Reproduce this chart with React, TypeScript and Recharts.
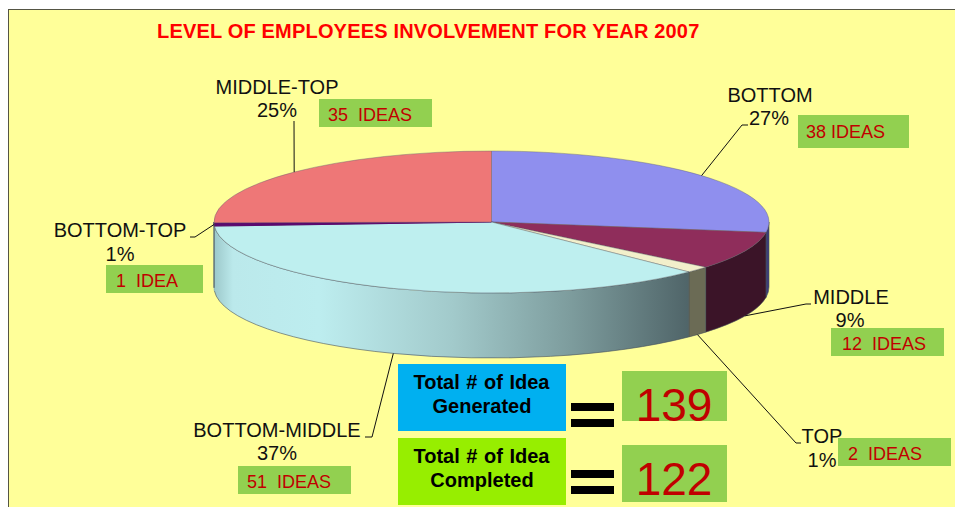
import React from "react";
import { PieChart, Pie, Cell } from "recharts";

const sliceNames = ["BOTTOM", "MIDDLE", "TOP", "BOTTOM-MIDDLE", "BOTTOM-TOP", "MIDDLE-TOP"];
const ideaCounts = [38, 12, 2, 51, 1, 35];
const ideaLabels = ["38 IDEAS", "12  IDEAS", "2  IDEAS", "51  IDEAS", "1  IDEA", "35  IDEAS"];
const titleText = "LEVEL OF EMPLOYEES INVOLVEMENT FOR YEAR 2007";
const totalGeneratedLines = ["Total # of Idea", "Generated"];
const totalCompletedLines = ["Total # of Idea", "Completed"];
const totalGenerated = 139;
const totalCompleted = 122;

const chartData = sliceNames.map((name, i) => ({ name, value: ideaCounts[i], ideas: ideaLabels[i] }));

const topColors = ["#8F8FEE", "#8F2D5B", "#F2EFCB", "#BEEFEF", "#5A0A6E", "#EE7777"];
const wallColors = ["#3D3D78", "#3B1428", "#6B6B55", "url(#wallGradient)", "#9CC8CA", "#8A4444"];

const CX = 491.5;
const CY = 222;
const RX = 277.5;
const RY = 71;
const DEPTH = 65;
const FONT = "'Liberation Sans', Arial, sans-serif";

const pt = (t: number, dy = 0) => {
  const r = (t * Math.PI) / 180;
  return [CX + RX * Math.sin(r), CY - RY * Math.cos(r) + dy];
};

const f = (p: number[]) => `${p[0].toFixed(2)} ${p[1].toFixed(2)}`;

// Squashes the library's circular sector into the tilted disc, with its side wall.
const TiltedSector = (props: any) => {
  const { startAngle, endAngle, fill, index } = props;
  const t0 = 90 - startAngle;
  const t1 = 90 - endAngle;
  const large = t1 - t0 > 180 ? 1 : 0;
  const top = `M ${CX} ${CY} L ${f(pt(t0))} A ${RX} ${RY} 0 ${large} 1 ${f(pt(t1))} Z`;
  const a = Math.max(t0, 90);
  const b = Math.min(t1, 270);
  let wall: string | null = null;
  if (b > a) {
    const wl = b - a > 180 ? 1 : 0;
    wall = `M ${f(pt(a))} A ${RX} ${RY} 0 ${wl} 1 ${f(pt(b))} L ${f(pt(b, DEPTH))} A ${RX} ${RY} 0 ${wl} 0 ${f(pt(a, DEPTH))} Z`;
  }
  const isSliver = t1 - t0 < 3;
  return (
    <g>
      {wall && <path d={wall} fill={wallColors[index]} stroke={isSliver ? wallColors[index] : "#46505a"} strokeWidth={0.6} />}
      <path d={top} fill={fill} stroke={isSliver ? fill : "#5a5a70"} strokeWidth={isSliver ? 1.2 : 0.4} />
    </g>
  );
};

const labelLayout: Record<string, any> = {
  BOTTOM: { name: [770, 102], pct: [769, 125], line: [[742, 125], [748, 125]], box: [798, 115, 111, 33], idea: [806, 138] },
  MIDDLE: { name: [851, 304], pct: [850, 327], line: [[806, 304], [811, 304]], box: [831, 328, 113, 28], idea: [842, 350] },
  TOP: { name: [822, 443], pct: [822, 467], line: [[796, 443], [801, 443]], box: [838, 438, 113, 28], idea: [848, 460] },
  "BOTTOM-MIDDLE": { name: [277, 437], pct: [277, 460], line: [[372, 437], [365, 437]], box: [238, 466, 113, 28], idea: [247, 488] },
  "BOTTOM-TOP": { name: [120, 237], pct: [120, 261], line: [[195, 237], [190, 237]], box: [106, 265, 97, 28], idea: [116, 287] },
  "MIDDLE-TOP": { name: [277, 94], pct: [277, 117], line: [[294, 121]], box: [319, 99, 113, 28], idea: [328, 121] },
};

const SliceLabel = (props: any) => {
  const { name, percent, midAngle, index } = props;
  const layout = labelLayout[name];
  const t = 90 - midAngle;
  const start = pt(t, t > 100 && t < 260 ? DEPTH : 0);
  const pts = [start, ...layout.line];
  return (
    <g key={index} fontFamily={FONT}>
      <polyline points={pts.map((p: number[]) => p.join(",")).join(" ")} fill="none" stroke="#111" strokeWidth={1} />
      <text x={layout.name[0]} y={layout.name[1]} textAnchor="middle" fontSize={20} fill="#111">{name}</text>
      <text x={layout.pct[0]} y={layout.pct[1]} textAnchor="middle" fontSize={20} fill="#111">{`${Math.round(percent * 100)}%`}</text>
      <rect x={layout.box[0]} y={layout.box[1]} width={layout.box[2]} height={layout.box[3]} fill="#92D050" />
      <text x={layout.idea[0]} y={layout.idea[1]} fontSize={18} fill="#C00000" style={{ whiteSpace: "pre" }}>{ideaLabels[index]}</text>
    </g>
  );
};

const TotalRow = ({ y, h, color, lines, value, valueY, boxY, boxH, barY }: any) => (
  <g fontFamily={FONT}>
    <rect x={398} y={y} width={168} height={h} fill={color} />
    <text x={481.5} y={y + 25} textAnchor="middle" fontSize={20} fontWeight="bold" fill="#000" wordSpacing={1}>{lines[0]}</text>
    <text x={482} y={y + 49} textAnchor="middle" fontSize={20} fontWeight="bold" fill="#000">{lines[1]}</text>
    <rect x={571} y={barY} width={43} height={8} fill="#000" />
    <rect x={571} y={barY + 16} width={43} height={8} fill="#000" />
    <rect x={622} y={boxY} width={105} height={boxH} fill="#92D050" />
    <text x={674} y={valueY} textAnchor="middle" fontSize={46} fill="#C00000">{value}</text>
  </g>
);

export default function App() {
  return (
    <div style={{ position: "absolute", left: 0, top: 0, width: 955, height: 507, overflow: "hidden", background: "#fff" }}>
      <PieChart width={955} height={507} margin={{ top: 0, right: 0, bottom: 0, left: 0 }}>
        <defs>
          <linearGradient id="wallGradient" gradientUnits="userSpaceOnUse" x1={214} y1={0} x2={690} y2={0}>
            <stop offset="0" stopColor="#9CC8CA" />
            <stop offset="0.04" stopColor="#BBE9EB" />
            <stop offset="0.22" stopColor="#BDEDEF" />
            <stop offset="0.5" stopColor="#A2CACB" />
            <stop offset="0.75" stopColor="#7D9C9D" />
            <stop offset="1" stopColor="#4F6468" />
          </linearGradient>
        </defs>
        <rect x={8.5} y={9.5} width={960} height={510} fill="#FFFF99" stroke="#555544" strokeWidth={1} />
        <text x={157} y={38} fontFamily={FONT} fontSize={20} fontWeight="bold" fill="#FF0000" letterSpacing={0.18}>{titleText}</text>
        <Pie
          data={chartData}
          dataKey="value"
          nameKey="name"
          cx={CX}
          cy={CY}
          outerRadius={RX}
          startAngle={90}
          endAngle={-270}
          isAnimationActive={false}
          shape={TiltedSector}
          label={SliceLabel}
          labelLine={false}
        >
          {chartData.map((d, i) => (
            <Cell key={d.name} fill={topColors[i]} />
          ))}
        </Pie>
        <TotalRow y={364} h={67} color="#00B0F0" lines={totalGeneratedLines} value={totalGenerated} valueY={421} boxY={371} boxH={50} barY={403} />
        <TotalRow y={438} h={67} color="#97EE00" lines={totalCompletedLines} value={totalCompleted} valueY={495} boxY={445} boxH={57} barY={470} />
      </PieChart>
    </div>
  );
}
